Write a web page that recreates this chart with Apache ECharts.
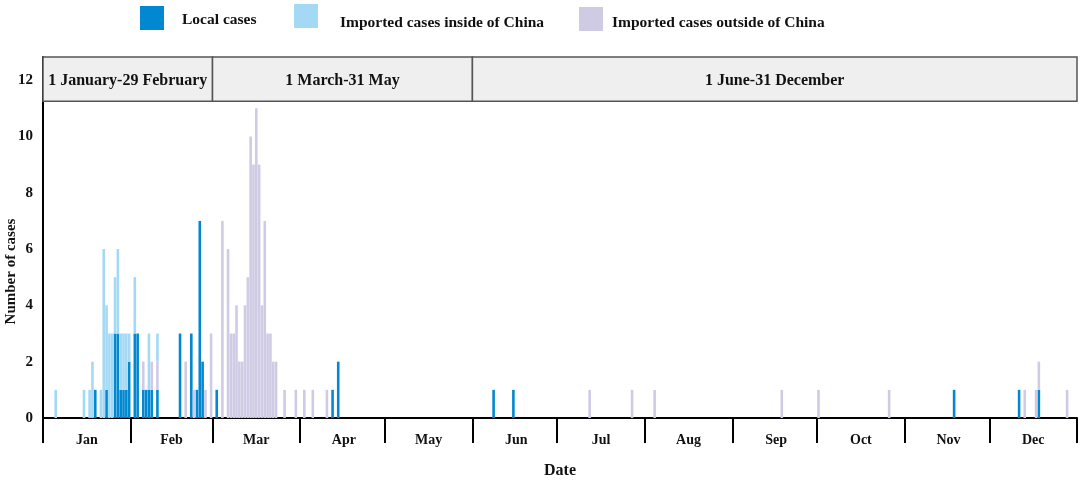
<!DOCTYPE html>
<html><head><meta charset="utf-8">
<script src="https://cdn.jsdelivr.net/npm/echarts@6/dist/echarts.min.js"></script>
<style>html,body{margin:0;padding:0;background:#fff}#c{width:1084px;height:483px}</style>
</head><body><div id="c"></div>
<script>
const monthNames = ['Jan','Feb','Mar','Apr','May','Jun','Jul','Aug','Sep','Oct','Nov','Dec'];
const monthDays = [31,29,31,30,31,30,31,31,30,31,30,31];
const periods = [
  ['1 January-29 February', '2020-01-01', '2020-02-29'],
  ['1 March-31 May', '2020-03-01', '2020-05-31'],
  ['1 June-31 December', '2020-06-01', '2020-12-31']
];
const localCases = [
  ['2020-01-19',1],['2020-01-23',1],['2020-01-26',3],['2020-01-27',3],['2020-01-28',1],
  ['2020-01-29',1],['2020-01-30',1],['2020-01-31',2],['2020-02-02',3],['2020-02-03',3],
  ['2020-02-05',1],['2020-02-06',1],['2020-02-07',1],['2020-02-08',1],['2020-02-10',1],
  ['2020-02-18',3],['2020-02-22',3],['2020-02-24',1],['2020-02-25',7],['2020-02-26',2],
  ['2020-03-02',1],['2020-04-12',1],['2020-04-14',2],['2020-06-08',1],['2020-06-15',1],
  ['2020-11-18',1],['2020-12-11',1],['2020-12-18',1]
];
const importedInside = [
  ['2020-01-05',1],['2020-01-15',1],['2020-01-17',1],['2020-01-18',2],['2020-01-21',1],
  ['2020-01-22',6],['2020-01-23',3],['2020-01-24',3],['2020-01-25',3],['2020-01-26',2],
  ['2020-01-27',3],['2020-01-28',2],['2020-01-29',2],['2020-01-30',2],['2020-01-31',1],
  ['2020-02-02',2],['2020-02-07',2],['2020-02-10',1]
];
const importedOutside = [
  ['2020-02-05',1],['2020-02-08',1],['2020-02-10',1],['2020-02-20',2],['2020-02-23',1],
  ['2020-02-27',1],['2020-02-29',3],['2020-03-04',7],['2020-03-06',6],['2020-03-07',3],
  ['2020-03-08',3],['2020-03-09',4],['2020-03-10',2],['2020-03-11',2],['2020-03-12',4],
  ['2020-03-13',5],['2020-03-14',10],['2020-03-15',9],['2020-03-16',11],['2020-03-17',9],
  ['2020-03-18',4],['2020-03-19',7],['2020-03-20',3],['2020-03-21',3],['2020-03-22',2],
  ['2020-03-23',2],['2020-03-26',1],['2020-03-30',1],['2020-04-02',1],['2020-04-05',1],
  ['2020-04-10',1],['2020-07-12',1],['2020-07-27',1],['2020-08-04',1],['2020-09-18',1],
  ['2020-10-01',1],['2020-10-26',1],['2020-12-13',1],['2020-12-17',1],['2020-12-18',1],
  ['2020-12-28',1]
];

const pad = n => (n < 10 ? '0' : '') + n;
const categories = [];
const monthStart = [];
const monthMid = {};
monthDays.forEach((nd, m) => {
  monthStart.push(categories.length);
  monthMid[categories.length + Math.floor(nd / 2)] = monthNames[m];
  for (let d = 1; d <= nd; d++) categories.push('2020-' + pad(m + 1) + '-' + pad(d));
});
const idxOf = {};
categories.forEach((c, i) => { idxOf[c] = i; });
function fill(list) {
  const arr = categories.map(() => 0);
  list.forEach(([d, v]) => { arr[idxOf[d]] = v; });
  return arr;
}
const YMAX = 12.82, BOX_LOW = 11.25;
const FONT = '"Liberation Serif", "Times New Roman", serif';
const TXT = '#111';

const chart = echarts.init(document.getElementById('c'));
function legendItem(name, left, top, padTop, padLeft) {
  return {
    left: left, top: top, data: [name], itemWidth: 24, itemHeight: 24, icon: 'rect',
    selectedMode: false,
    formatter: n => '{t|' + n + '}',
    textStyle: { fontFamily: FONT, fontWeight: 'bold', fontSize: 15.5, color: TXT,
      rich: { t: { fontFamily: FONT, fontWeight: 'bold', fontSize: 15.5, color: TXT,
        padding: [padTop, 0, 0, padLeft] } } }
  };
}
chart.setOption({
  animation: false,
  backgroundColor: '#fff',
  legend: [
    legendItem('Local cases', 135, 1, 4, 13),
    legendItem('Imported cases inside of China', 289, -1, 14, 17),
    legendItem('Imported cases outside of China', 574, 2, 8, 4)
  ],
  grid: { left: 43, right: 7, top: 57, bottom: 65, containLabel: false, outerBoundsMode: 'none' },
  xAxis: [{
    type: 'category', data: categories, boundaryGap: true,
    name: 'Date', nameLocation: 'middle', nameGap: 45, nameMoveOverlap: false,
    nameTextStyle: { fontFamily: FONT, fontWeight: 'bold', fontSize: 16, color: TXT },
    axisLine: { lineStyle: { color: '#000', width: 2 } },
    axisTick: { show: true, length: 25, lineStyle: { color: '#000', width: 2 },
      interval: (i) => monthStart.indexOf(i) >= 0 },
    axisLabel: { interval: (i) => monthMid[i] !== undefined,
      formatter: (v) => monthNames[parseInt(v.slice(5, 7), 10) - 1],
      fontFamily: FONT, fontWeight: 'bold', fontSize: 14, color: TXT, margin: 15 },
    splitLine: { show: false }
  }, {
    type: 'value', min: 0, max: categories.length, show: false
  }],
  yAxis: {
    type: 'value', min: 0, max: YMAX, interval: 2,
    name: 'Number of cases', nameLocation: 'middle', nameGap: 24, nameMoveOverlap: false,
    nameTextStyle: { fontFamily: FONT, fontWeight: 'bold', fontSize: 15, color: TXT,
      padding: [0, 68, 0, 0] },
    axisLine: { show: true, lineStyle: { color: '#000', width: 2 } },
    axisTick: { show: false },
    splitLine: { show: false },
    axisLabel: { formatter: v => (Math.abs(v % 2) < 1e-9 ? String(v) : ''),
      fontFamily: FONT, fontWeight: 'bold', fontSize: 15, color: TXT, margin: 10 }
  },
  series: [
    { name: 'Local cases', type: 'bar', stack: 'all', data: fill(localCases),
      barWidth: '92%', itemStyle: { color: '#0288d1' } },
    { name: 'Imported cases outside of China', type: 'bar', stack: 'all', data: fill(importedOutside),
      barWidth: '92%', itemStyle: { color: '#cfcbe5' } },
    { name: 'Imported cases inside of China', type: 'bar', stack: 'all', data: fill(importedInside),
      barWidth: '92%', itemStyle: { color: '#a3d9f5' } },
    { type: 'custom', xAxisIndex: 1, yAxisIndex: 0, z: 5, silent: true,
      data: periods.map(p => [idxOf[p[1]], idxOf[p[2]] + 1]),
      renderItem: (params, api) => {
        const a = api.coord([api.value(0), YMAX]);
        const b = api.coord([api.value(1), BOX_LOW]);
        return {
          type: 'rect',
          shape: { x: a[0], y: a[1], width: b[0] - a[0], height: b[1] - a[1] },
          style: { fill: '#efefef', stroke: '#555', lineWidth: 1.5 },
          textContent: { style: { text: periods[params.dataIndex][0],
            font: 'bold 16px ' + FONT, fill: TXT } },
          textConfig: { position: 'inside', offset: [0, 2] }
        };
      } }
  ]
});
</script></body></html>
